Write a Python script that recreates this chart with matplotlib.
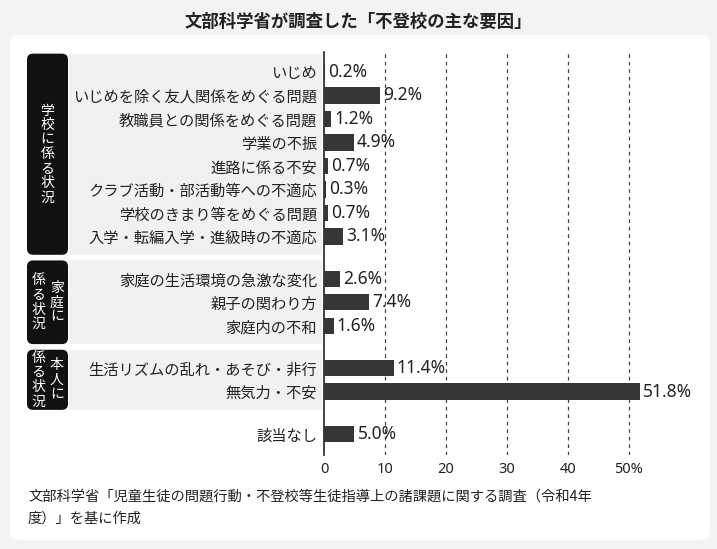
import matplotlib
matplotlib.use("Agg")
import matplotlib.pyplot as plt
from matplotlib.patches import FancyBboxPatch, Rectangle
from matplotlib.transforms import IdentityTransform, blended_transform_factory

plt.rcParams['font.family'] = ['Noto Sans CJK JP', 'DejaVu Sans']

# ---------------- data ----------------
title = "文部科学省が調査した「不登校の主な要因」"
group_label_cols = [["学校に係る状況"], ["家庭に", "係る状況"], ["本人に", "係る状況"], []]
group_categories = [
    ["いじめ", "いじめを除く友人関係をめぐる問題", "教職員との関係をめぐる問題", "学業の不振",
     "進路に係る不安", "クラブ活動・部活動等への不適応", "学校のきまり等をめぐる問題",
     "入学・転編入学・進級時の不適応"],
    ["家庭の生活環境の急激な変化", "親子の関わり方", "家庭内の不和"],
    ["生活リズムの乱れ・あそび・非行", "無気力・不安"],
    ["該当なし"],
]
group_values = [
    [0.2, 9.2, 1.2, 4.9, 0.7, 0.3, 0.7, 3.1],
    [2.6, 7.4, 1.6],
    [11.4, 51.8],
    [5.0],
]
xticks = [0, 10, 20, 30, 40, 50]
xticklabels = ["0", "10", "20", "30", "40", "50%"]
source_lines = ["文部科学省「児童生徒の問題行動・不登校等生徒指導上の諸課題に関する調査（令和4年",
                "度）」を基に作成"]

# ---------------- layout ----------------
W, H = 717, 549
fig = plt.figure(figsize=(W / 100, H / 100), dpi=100)
fig.patch.set_facecolor("#f3f3f3")

def px(x, y):
    return x, H - y

# white panel
x0, y0 = px(10, 540)
panel = FancyBboxPatch((x0, y0), 700, 505, boxstyle="round,pad=0,rounding_size=8",
                       transform=IdentityTransform(), facecolor="white", edgecolor="none", zorder=-5)
fig.add_artist(panel)

ax = fig.add_axes([324 / W, 1 - 455 / H, 378 / W, (455 - 52) / H])
ax.set_facecolor("none")

gap = 0.8
positions, cats, vals, group_spans = [], [], [], []
pos = 0.0
for gi, (cs, vs) in enumerate(zip(group_categories, group_values)):
    start = pos
    for c, v in zip(cs, vs):
        positions.append(pos)
        cats.append(c)
        vals.append(v)
        pos += 1
    group_spans.append((start, pos - 1))
    pos += gap

ax.set_ylim(16.3, -0.85)
ax.set_xlim(0, 62)

ax.barh(positions, vals, height=0.7, color="#363636", zorder=3)
for p, v in zip(positions, vals):
    ax.annotate(f"{v:.1f}%", (v, p), xytext=(3, 0), textcoords="offset pixels",
                va="center", ha="left", fontsize=12.5, family=["Noto Sans", "DejaVu Sans"],
                color="#222222", zorder=4)

ax.set_yticks(positions)
ax.set_yticklabels(cats, fontsize=11, color="#222222")
ax.tick_params(axis="y", length=0, pad=5)
ax.set_xticks(xticks)
ax.set_xticklabels(xticklabels, fontsize=10.5, family=["Noto Sans", "DejaVu Sans"], color="#222222")
ax.tick_params(axis="x", length=0, pad=5)

for t in xticks[1:]:
    ax.axvline(t, color="#444444", lw=0.9, ls=(0, (3, 3)), zorder=1)

for s in ["top", "right", "bottom"]:
    ax.spines[s].set_visible(False)
ax.spines["left"].set_color("#333333")
ax.spines["left"].set_linewidth(1.3)
ax.spines["left"].set_zorder(5)

# group boxes
pad_top, pad_bot = 0.78, 0.78
for gi, cols in enumerate(group_label_cols):
    if not cols:
        continue
    a, b = group_spans[gi]
    ytop = ax.transData.transform((0, a - pad_top))[1]
    ybot = ax.transData.transform((0, b + pad_bot))[1]
    h = ytop - ybot
    band = Rectangle((69, ybot), 322 - 69, h, transform=IdentityTransform(),
                     facecolor="#f1f1f1", edgecolor="none", zorder=-2)
    fig.add_artist(band)
    box = FancyBboxPatch((27, ybot), 41, h, boxstyle="round,pad=0,rounding_size=6",
                         transform=IdentityTransform(), facecolor="#111111", edgecolor="none", zorder=-1)
    fig.add_artist(box)
    yc = (ytop + ybot) / 2
    if len(cols) == 1:
        xs = [47.5]
    else:
        xs = [57, 38.5]
    for xc, col in zip(xs, cols):
        fig.text(xc / W, yc / H, "\n".join(col), color="white", fontsize=10,
                 ha="center", va="center", linespacing=1.05)

fig.text(358 / W, 1 - 22 / H, title, ha="center", va="center", fontsize=12.5,
         fontweight="bold", color="#222222")
fig.text(28 / W, 1 - 497 / H, source_lines[0], ha="left", va="center", fontsize=10.3, color="#222222")
fig.text(28 / W, 1 - 519 / H, source_lines[1], ha="left", va="center", fontsize=10.3, color="#222222")

fig.savefig("out.png", dpi=100, facecolor=fig.get_facecolor())
